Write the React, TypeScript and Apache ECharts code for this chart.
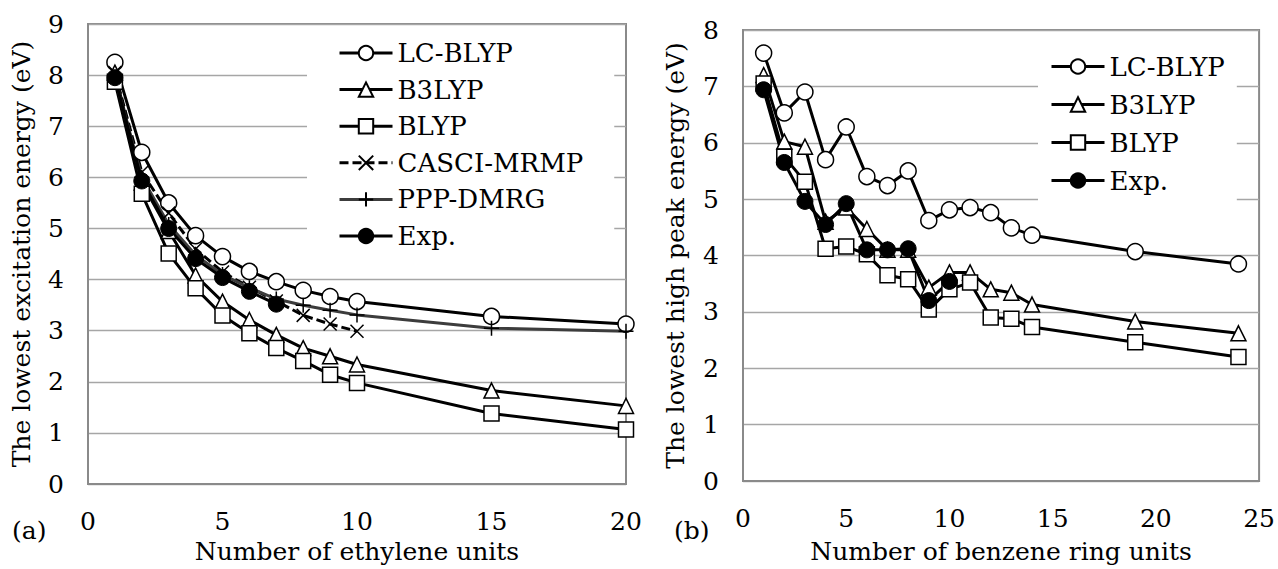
import React, { useEffect, useRef } from "react";
import * as echarts from "echarts";

// ---------- data: (a) polyacetylene ----------
const xA = [1, 2, 3, 4, 5, 6, 7, 8, 9, 10, 15, 20];
const lcA = [8.25, 6.49, 5.5, 4.86, 4.45, 4.16, 3.96, 3.79, 3.67, 3.57, 3.28, 3.13];
const b3A = [8.05, 5.9, 4.95, 4.08, 3.57, 3.21, 2.92, 2.66, 2.5, 2.34, 1.83, 1.53];
const blA = [7.87, 5.68, 4.51, 3.83, 3.3, 2.95, 2.66, 2.41, 2.14, 1.98, 1.38, 1.07];
const xCas = [1, 2, 3, 4, 5, 6, 7, 8, 9, 10];
const casA = [8.05, 6.1, 5.3, 4.6, 4.15, 3.85, 3.58, 3.3, 3.13, 2.99];
const xPpp = [1, 2, 3, 4, 5, 6, 7, 8, 9, 10, 15, 20];
const pppA = [7.95, 6.0, 5.08, 4.48, 4.1, 3.84, 3.62, 3.5, 3.4, 3.31, 3.05, 2.99];
const xExpA = [1, 2, 3, 4, 5, 6, 7];
const expA = [7.95, 5.93, 5.0, 4.41, 4.04, 3.77, 3.52];

// ---------- data: (b) benzene rings ----------
const xB = [1, 2, 3, 4, 5, 6, 7, 8, 9, 10, 11, 12, 13, 14, 19, 24];
const lcB = [7.59, 6.53, 6.9, 5.7, 6.28, 5.4, 5.24, 5.5, 4.62, 4.81, 4.85, 4.76, 4.49, 4.36, 4.07, 3.85];
const b3B = [7.2, 6.02, 5.93, 4.6, 4.85, 4.47, 4.1, 4.1, 3.43, 3.7, 3.7, 3.4, 3.34, 3.13, 2.83, 2.62];
const blB = [7.05, 5.75, 5.31, 4.12, 4.16, 4.02, 3.65, 3.58, 3.04, 3.4, 3.52, 2.9, 2.88, 2.73, 2.46, 2.2];
const xExpB = [1, 2, 3, 4, 5, 6, 7, 8, 9, 10];
const expB = [6.94, 5.65, 4.96, 4.55, 4.92, 4.1, 4.1, 4.12, 3.2, 3.54];

const namesA = ["LC-BLYP", "B3LYP", "BLYP", "CASCI-MRMP", "PPP-DMRG", "Exp."];
const namesB = ["LC-BLYP", "B3LYP", "BLYP", "Exp."];
const xTicksA = { min: 0, max: 20, interval: 5 };
const yTicksA = { min: 0, max: 9, interval: 1 };
const xTicksB = { min: 0, max: 25, interval: 5 };
const yTicksB = { min: 0, max: 8, interval: 1 };

const FONT = "DejaVu Serif";
const pairs = (xs: number[], ys: number[]) => xs.map((x, i) => [x, ys[i]]);

const styles: Record<string, any> = {
  "LC-BLYP": { symbol: "circle", symbolSize: 16, itemStyle: { color: "#fff", borderColor: "#000", borderWidth: 1.5 }, lineStyle: { color: "#000", width: 3 } },
  B3LYP: { symbol: "triangle", symbolSize: 15, itemStyle: { color: "#fff", borderColor: "#000", borderWidth: 1.5 }, lineStyle: { color: "#000", width: 3 } },
  BLYP: { symbol: "rect", symbolSize: 15, itemStyle: { color: "#fff", borderColor: "#000", borderWidth: 1.5 }, lineStyle: { color: "#000", width: 3 } },
  "CASCI-MRMP": { symbol: "path://M0,0L10,10M10,0L0,10", symbolSize: 13, itemStyle: { color: "none", borderColor: "#000", borderWidth: 1.5 }, lineStyle: { color: "#000", width: 3, type: [9, 4] } },
  "PPP-DMRG": { symbol: "path://M5,0L5,10M0,5L10,5", symbolSize: 15, itemStyle: { color: "none", borderColor: "#000", borderWidth: 1.5 }, lineStyle: { color: "#3c3c3c", width: 3 } },
  "Exp.": { symbol: "circle", symbolSize: 16, itemStyle: { color: "#000", borderColor: "#000", borderWidth: 1 }, lineStyle: { color: "#000", width: 3 } },
};

const mkSeries = (name: string, data: number[][], idx: number) => ({
  type: "line",
  name,
  data,
  xAxisIndex: idx,
  yAxisIndex: idx,
  ...styles[name],
  emphasis: { disabled: true },
});

const axisCommon = {
  axisLine: { show: true, onZero: false, lineStyle: { color: "#8a8a8a", width: 2 } },
  axisTick: { show: false },
  splitLine: { show: false },
  nameTextStyle: { fontFamily: FONT, fontSize: 25, color: "#000" },
  axisLabel: { fontFamily: FONT, fontSize: 25, color: "#000" },
};

export default function App() {
  const ref = useRef<HTMLDivElement>(null);
  useEffect(() => {
    document.body.style.margin = "0";
    const chart = echarts.init(ref.current!, undefined, { renderer: "svg" });
    const option: any = {
      animation: false,
      backgroundColor: "#fff",
      grid: [
        { left: 88, top: 24, width: 538, height: 463, show: true, borderColor: "#8a8a8a", borderWidth: 2 },
        { left: 743, top: 30, width: 519, height: 452, show: true, borderColor: "#8a8a8a", borderWidth: 2 },
      ],
      xAxis: [
        { type: "value", gridIndex: 0, ...xTicksA, ...axisCommon, name: "Number of ethylene units", nameLocation: "middle", nameGap: 53, axisLabel: { ...axisCommon.axisLabel, margin: 25 } },
        { type: "value", gridIndex: 1, ...xTicksB, ...axisCommon, name: "Number of benzene ring units", nameLocation: "middle", nameGap: 58, axisLabel: { ...axisCommon.axisLabel, margin: 25 } },
      ],
      yAxis: [
        { type: "value", gridIndex: 0, ...yTicksA, ...axisCommon, splitLine: { show: true, lineStyle: { color: "#a6a6a6", width: 1.3 } }, name: "The lowest excitation energy (eV)", nameLocation: "middle", nameGap: 54, axisLabel: { ...axisCommon.axisLabel, margin: 24 } },
        { type: "value", gridIndex: 1, ...yTicksB, ...axisCommon, splitLine: { show: true, lineStyle: { color: "#a6a6a6", width: 1.3 } }, name: "The lowest high peak energy (eV)", nameLocation: "middle", nameGap: 55, axisLabel: { ...axisCommon.axisLabel, margin: 24 } },
      ],
      legend: [
        {
          data: namesA, orient: "vertical", left: 307, top: 30, padding: [10, 31, 12, 31],
          backgroundColor: "#fff", itemWidth: 53, itemHeight: 18, itemGap: 10.6,
          lineStyle: { width: 3 },
          textStyle: { fontFamily: FONT, fontSize: 26, color: "#000", lineHeight: 26 }, selectedMode: false,
        },
        {
          data: namesB, orient: "vertical", left: 1038, top: 40, padding: [13, 12, 12, 12],
          backgroundColor: "#fff", itemWidth: 53, itemHeight: 18, itemGap: 11,
          lineStyle: { width: 3 },
          textStyle: { fontFamily: FONT, fontSize: 26, color: "#000", lineHeight: 27 }, selectedMode: false,
        },
      ],
      graphic: [
        { type: "text", left: 12, top: 518, style: { text: "(a)", font: `25px "${FONT}"`, fill: "#000" } },
        { type: "text", left: 674, top: 518, style: { text: "(b)", font: `25px "${FONT}"`, fill: "#000" } },
      ],
      series: [
        mkSeries("LC-BLYP", pairs(xA, lcA), 0),
        mkSeries("B3LYP", pairs(xA, b3A), 0),
        mkSeries("BLYP", pairs(xA, blA), 0),
        mkSeries("CASCI-MRMP", pairs(xCas, casA), 0),
        mkSeries("PPP-DMRG", pairs(xPpp, pppA), 0),
        mkSeries("Exp.", pairs(xExpA, expA), 0),
        mkSeries("LC-BLYP", pairs(xB, lcB), 1),
        mkSeries("B3LYP", pairs(xB, b3B), 1),
        mkSeries("BLYP", pairs(xB, blB), 1),
        mkSeries("Exp.", pairs(xExpB, expB), 1),
      ],
    };
    chart.setOption(option);
    return () => chart.dispose();
  }, []);
  return <div ref={ref} style={{ width: 1278, height: 569 }} />;
}
